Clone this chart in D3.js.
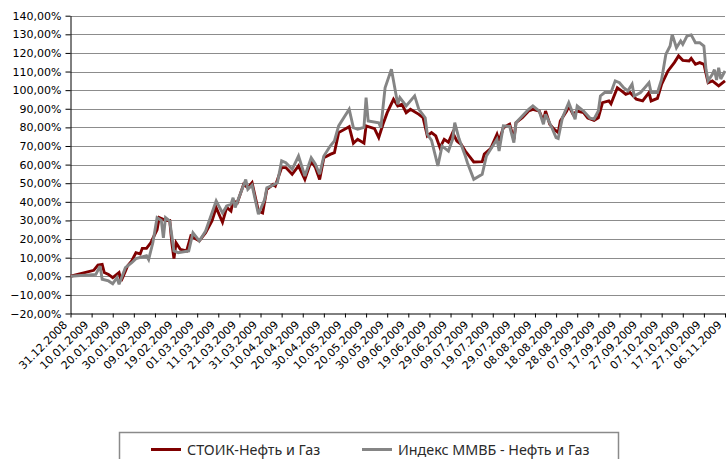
<!DOCTYPE html>
<html>
    <head>
        <meta charset="utf-8">
        <script src="https://d3js.org/d3.v7.min.js"></script>
        <style>
            body { margin: 0; background: #fff; }
            svg { display: block; background-color: #fff; }
            .axis text { font-family: "DejaVu Sans", Verdana, sans-serif; font-size: 11px; fill: #000; }
            .axis path, .axis line { stroke: #000; }
            .grid line { stroke: #8c8c8c; stroke-width: 1; }
            .legend text { font-family: "Noto Sans", sans-serif; font-size: 14.3px; fill: #2a2a2a; }
        </style>
    </head>
    <body>
        <svg width="726" height="459">
            <g class="grid"></g>
            <g class="axis y-axis"></g>
            <g class="axis x-axis"></g>
            <g class="data"></g>
            <g class="legend"></g>
        </svg>

        <script>
            var seriesNames = ['СТОИК-Нефть и Газ', 'Индекс ММВБ - Нефть и Газ'];

            var stoikDates = ['31.12.2008','11.01.2009','13.01.2009','15.01.2009','16.01.2009','18.01.2009','20.01.2009','23.01.2009','24.01.2009','26.01.2009','27.01.2009','29.01.2009','31.01.2009',
                '02.02.2009','03.02.2009','05.02.2009','07.02.2009','10.02.2009','11.02.2009','14.02.2009','16.02.2009','17.02.2009','18.02.2009','19.02.2009','21.02.2009','24.02.2009','26.02.2009',
                '02.03.2009','05.03.2009','08.03.2009','10.03.2009','13.03.2009','15.03.2009','17.03.2009','18.03.2009','20.03.2009','23.03.2009','25.03.2009','27.03.2009','30.03.2009',
                '01.04.2009','03.04.2009','06.04.2009','07.04.2009','10.04.2009','12.04.2009','15.04.2009','18.04.2009','21.04.2009','24.04.2009','26.04.2009','28.04.2009','30.04.2009',
                '03.05.2009','05.05.2009','07.05.2009','12.05.2009','14.05.2009','16.05.2009','19.05.2009','20.05.2009','24.05.2009','26.05.2009','28.05.2009','30.05.2009',
                '02.06.2009','04.06.2009','06.06.2009','08.06.2009','10.06.2009','14.06.2009','16.06.2009','18.06.2009','20.06.2009','22.06.2009','24.06.2009','26.06.2009','28.06.2009','30.06.2009',
                '02.07.2009','04.07.2009','06.07.2009','10.07.2009','14.07.2009','15.07.2009','18.07.2009','21.07.2009','22.07.2009','24.07.2009','27.07.2009','29.07.2009','30.07.2009',
                '02.08.2009','05.08.2009','07.08.2009','10.08.2009','12.08.2009','13.08.2009','15.08.2009','17.08.2009','19.08.2009','20.08.2009','23.08.2009','24.08.2009','26.08.2009','28.08.2009','31.08.2009',
                '02.09.2009','05.09.2009','07.09.2009','09.09.2009','12.09.2009','13.09.2009','16.09.2009','18.09.2009','20.09.2009','22.09.2009','25.09.2009','28.09.2009',
                '01.10.2009','02.10.2009','05.10.2009','07.10.2009','10.10.2009','13.10.2009','15.10.2009','17.10.2009','20.10.2009','21.10.2009','23.10.2009','25.10.2009','27.10.2009','29.10.2009','31.10.2009',
                '03.11.2009','06.11.2009'];
            var stoikValues = [0, 3.2, 6, 6.4, 2, 1, -0.7, 2, -2.5, 2.8, 5.5, 8.2, 12.7,
                12, 15, 15, 18, 25, 31.5, 30, 30, 18, 9.5, 18, 14.5, 13.6, 21.7,
                19, 23.4, 29.7, 36.9, 29, 37, 35, 40.5, 39.5, 49.4, 47.6, 50.3, 35,
                34, 46.7, 49.4, 48.5, 58.4, 58.4, 54.8, 59.3, 52, 62, 58.4, 52, 63.7,
                65.5, 66.4, 77.2, 80.4, 71.5, 73.6, 71.5, 80.8, 79.3, 74.5, 81.7, 87.9,
                95.1, 91.5, 92.4, 87.9, 89.7, 87, 85.2, 75.4, 77.2, 75.4, 69.1, 73.6, 72, 77.2,
                72.7, 70.9, 67.3, 61.4, 61.6, 65.6, 68.6, 76.3, 72.7, 79.8, 81.7, 73.6, 82.5,
                85.2, 88.8, 89.7, 88.8, 83.4, 88.8, 81.7, 79, 77.2, 83.4, 88.8, 91.5, 87, 88.8, 87.9,
                85, 83.8, 85.2, 93.3, 94.2, 92.7, 101.3, 99.6, 97.8, 98.7, 95.1, 94.2,
                98.7, 94.2, 95.6, 103.2, 110.3, 114.8, 118.4, 116, 115.7, 117.1, 113.9, 114.8, 113.9, 104, 105,
                102.3, 105];

            var micexDates = ['31.12.2008','12.01.2009','14.01.2009','15.01.2009','18.01.2009','20.01.2009','22.01.2009','23.01.2009','26.01.2009','29.01.2009','31.01.2009',
                '05.02.2009','06.02.2009','08.02.2009','10.02.2009','12.02.2009','13.02.2009','14.02.2009','16.02.2009','18.02.2009','20.02.2009','25.02.2009','27.02.2009',
                '02.03.2009','05.03.2009','10.03.2009','13.03.2009','15.03.2009','17.03.2009','18.03.2009','19.03.2009','24.03.2009','25.03.2009','27.03.2009','30.03.2009',
                '02.04.2009','03.04.2009','06.04.2009','08.04.2009','10.04.2009','12.04.2009','15.04.2009','18.04.2009','21.04.2009','24.04.2009','26.04.2009','28.04.2009','30.04.2009',
                '03.05.2009','05.05.2009','07.05.2009','12.05.2009','14.05.2009','16.05.2009','19.05.2009','20.05.2009','21.05.2009','26.05.2009','27.05.2009','29.05.2009',
                '01.06.2009','04.06.2009','05.06.2009','08.06.2009','12.06.2009','14.06.2009','17.06.2009','18.06.2009','20.06.2009','23.06.2009','25.06.2009','28.06.2009','30.06.2009',
                '01.07.2009','03.07.2009','06.07.2009','07.07.2009','10.07.2009','14.07.2009','16.07.2009','18.07.2009','21.07.2009','22.07.2009','24.07.2009','27.07.2009','29.07.2009','30.07.2009',
                '02.08.2009','05.08.2009','07.08.2009','10.08.2009','12.08.2009','13.08.2009','16.08.2009','18.08.2009','19.08.2009','21.08.2009','24.08.2009','27.08.2009','28.08.2009','31.08.2009',
                '03.09.2009','05.09.2009','07.09.2009','08.09.2009','10.09.2009','13.09.2009','15.09.2009','17.09.2009','19.09.2009','21.09.2009','23.09.2009','24.09.2009','27.09.2009','29.09.2009',
                '01.10.2009','02.10.2009','05.10.2009','07.10.2009','09.10.2009','11.10.2009','12.10.2009','14.10.2009','16.10.2009','17.10.2009','19.10.2009','21.10.2009','23.10.2009','25.10.2009','27.10.2009','28.10.2009','29.10.2009','31.10.2009',
                '01.11.2009','02.11.2009','03.11.2009','04.11.2009','06.11.2009'];
            var micexValues = [0, 1, 5.5, -1.6, -2.5, -4, -0.7, -4.3, 4.6, 7.3, 9.5,
                11, 9, 18, 31.5, 30, 20.7, 31.5, 29.7, 13.6, 12.7, 13.6, 23.4,
                19, 24.3, 40.5, 34, 37.8, 38.7, 42.2, 37, 52, 46.7, 49, 33.3,
                41.4, 47.6, 49, 50.3, 62, 61, 57.5, 64.6, 53.9, 63.7, 60.2, 54.8, 64.6,
                70, 72.7, 80.8, 89.7, 79.8, 79, 80, 96, 83.4, 82.5, 79.8, 101.3,
                111.2, 92.4, 96, 91.5, 96.9, 89.7, 85.2, 76.3, 73, 59.3, 70, 67.3, 73.6,
                82.5, 74, 64.6, 61, 52.1, 54.8, 64.6, 68.2, 73.6, 67.3, 80.8, 80.5, 71.8, 82.5,
                86.1, 89.7, 91.5, 88.8, 81.7, 87, 79.8, 74.5, 74, 85.2, 93.3, 84.4, 91.5, 88.8,
                85, 84.5, 88.8, 96.9, 98.7, 98.7, 105, 104, 101.3, 99.6, 103.2, 96.9, 98.7, 101.3,
                104, 98.7, 98.7, 105.9, 119.3, 123.7, 130, 122.8, 126.4, 124.6, 129.1, 129.7, 125.5, 125.5, 123.7, 111.2, 105, 108.5,
                111, 105.5, 112, 106, 110.3];

            var xTickLabels = ['31.12.2008','10.01.2009','20.01.2009','30.01.2009','09.02.2009','19.02.2009','01.03.2009','11.03.2009',
                '21.03.2009','31.03.2009','10.04.2009','20.04.2009','30.04.2009','10.05.2009','20.05.2009','30.05.2009',
                '09.06.2009','19.06.2009','29.06.2009','09.07.2009','19.07.2009','29.07.2009','08.08.2009','18.08.2009',
                '28.08.2009','07.09.2009','17.09.2009','27.09.2009','07.10.2009','17.10.2009','27.10.2009','06.11.2009'];
            var yTicks = [-20, -10, 0, 10, 20, 30, 40, 50, 60, 70, 80, 90, 100, 110, 120, 130, 140];

            var parseDate = d3.timeParse('%d.%m.%Y');

            function toPoints(dates, values) {
                return dates.map(function (d, i) {
                    return { date: parseDate(d), value: values[i] };
                });
            }

            var series = [
                { name: seriesNames[0], color: '#7f0000', points: toPoints(stoikDates, stoikValues) },
                { name: seriesNames[1], color: '#858585', points: toPoints(micexDates, micexValues) }
            ];

            render();

            function render() {
                var root = d3.select('svg');

                var L = 70.5, R = 725, T = 15.7, B = 313.5;

                var tickDates = xTickLabels.map(parseDate);

                var x = d3.scaleTime()
                    .domain([tickDates[0], tickDates[tickDates.length - 1]])
                    .range([L, R]);

                var y = d3.scaleLinear()
                    .domain([-20, 140])
                    .range([B, T]);

                var pct = function (v) {
                    return d3.format('.2f')(v).replace('.', ',') + '%';
                };

                // horizontal grid lines
                root.select('.grid').selectAll('line')
                    .data(yTicks.filter(function (v) { return v !== -20; }))
                    .enter().append('line')
                    .attr('x1', L)
                    .attr('x2', R)
                    .attr('y1', function (v) { return Math.round(y(v)) + 0.5; })
                    .attr('y2', function (v) { return Math.round(y(v)) + 0.5; });

                var yAxis = d3.axisLeft(y)
                    .tickValues(yTicks)
                    .tickFormat(pct)
                    .tickSizeInner(5)
                    .tickSizeOuter(0)
                    .tickPadding(4);

                root.select('.y-axis')
                    .attr('transform', 'translate(' + L + ',0)')
                    .call(yAxis);

                var xAxis = d3.axisBottom(x)
                    .tickValues(tickDates)
                    .tickFormat(function (d, i) { return xTickLabels[i]; })
                    .tickSizeInner(4)
                    .tickSizeOuter(0);

                root.select('.x-axis')
                    .attr('transform', 'translate(0,' + B + ')')
                    .call(xAxis);

                // labels run at 45 degrees, ending just under their tick
                root.select('.x-axis').selectAll('text')
                    .attr('text-anchor', 'end')
                    .attr('x', 0)
                    .attr('y', 0)
                    .attr('dy', 0)
                    .attr('transform', 'translate(-3,12) rotate(-45)');

                var line = d3.line()
                    .x(function (d) { return x(d.date); })
                    .y(function (d) { return y(d.value); });

                root.select('.data').selectAll('path')
                    .data(series)
                    .enter().append('path')
                    .attr('fill', 'none')
                    .attr('stroke', function (s) { return s.color; })
                    .attr('stroke-width', 2.9)
                    .attr('stroke-linejoin', 'miter')
                    .attr('stroke-miterlimit', 3)
                    .attr('d', function (s) { return line(s.points); });

                // legend box, cut by the bottom edge like the original
                var legend = root.select('.legend');
                legend.append('rect')
                    .attr('x', 119.5)
                    .attr('y', 432.5)
                    .attr('width', 499)
                    .attr('height', 40)
                    .attr('fill', '#fff')
                    .attr('stroke', '#8a8a8a')
                    .attr('stroke-width', 1.5);

                var itemX = [151, 362];
                var items = legend.selectAll('g.item')
                    .data(series)
                    .enter().append('g')
                    .attr('class', 'item')
                    .attr('transform', function (s, i) { return 'translate(' + itemX[i] + ',449.5)'; });

                items.append('line')
                    .attr('x1', 0)
                    .attr('x2', 30)
                    .attr('stroke', function (s) { return s.color; })
                    .attr('stroke-width', 3);

                items.append('text')
                    .attr('x', 36)
                    .attr('dy', '0.36em')
                    .text(function (s) { return s.name; });
            }
        </script>
    </body>
</html>
